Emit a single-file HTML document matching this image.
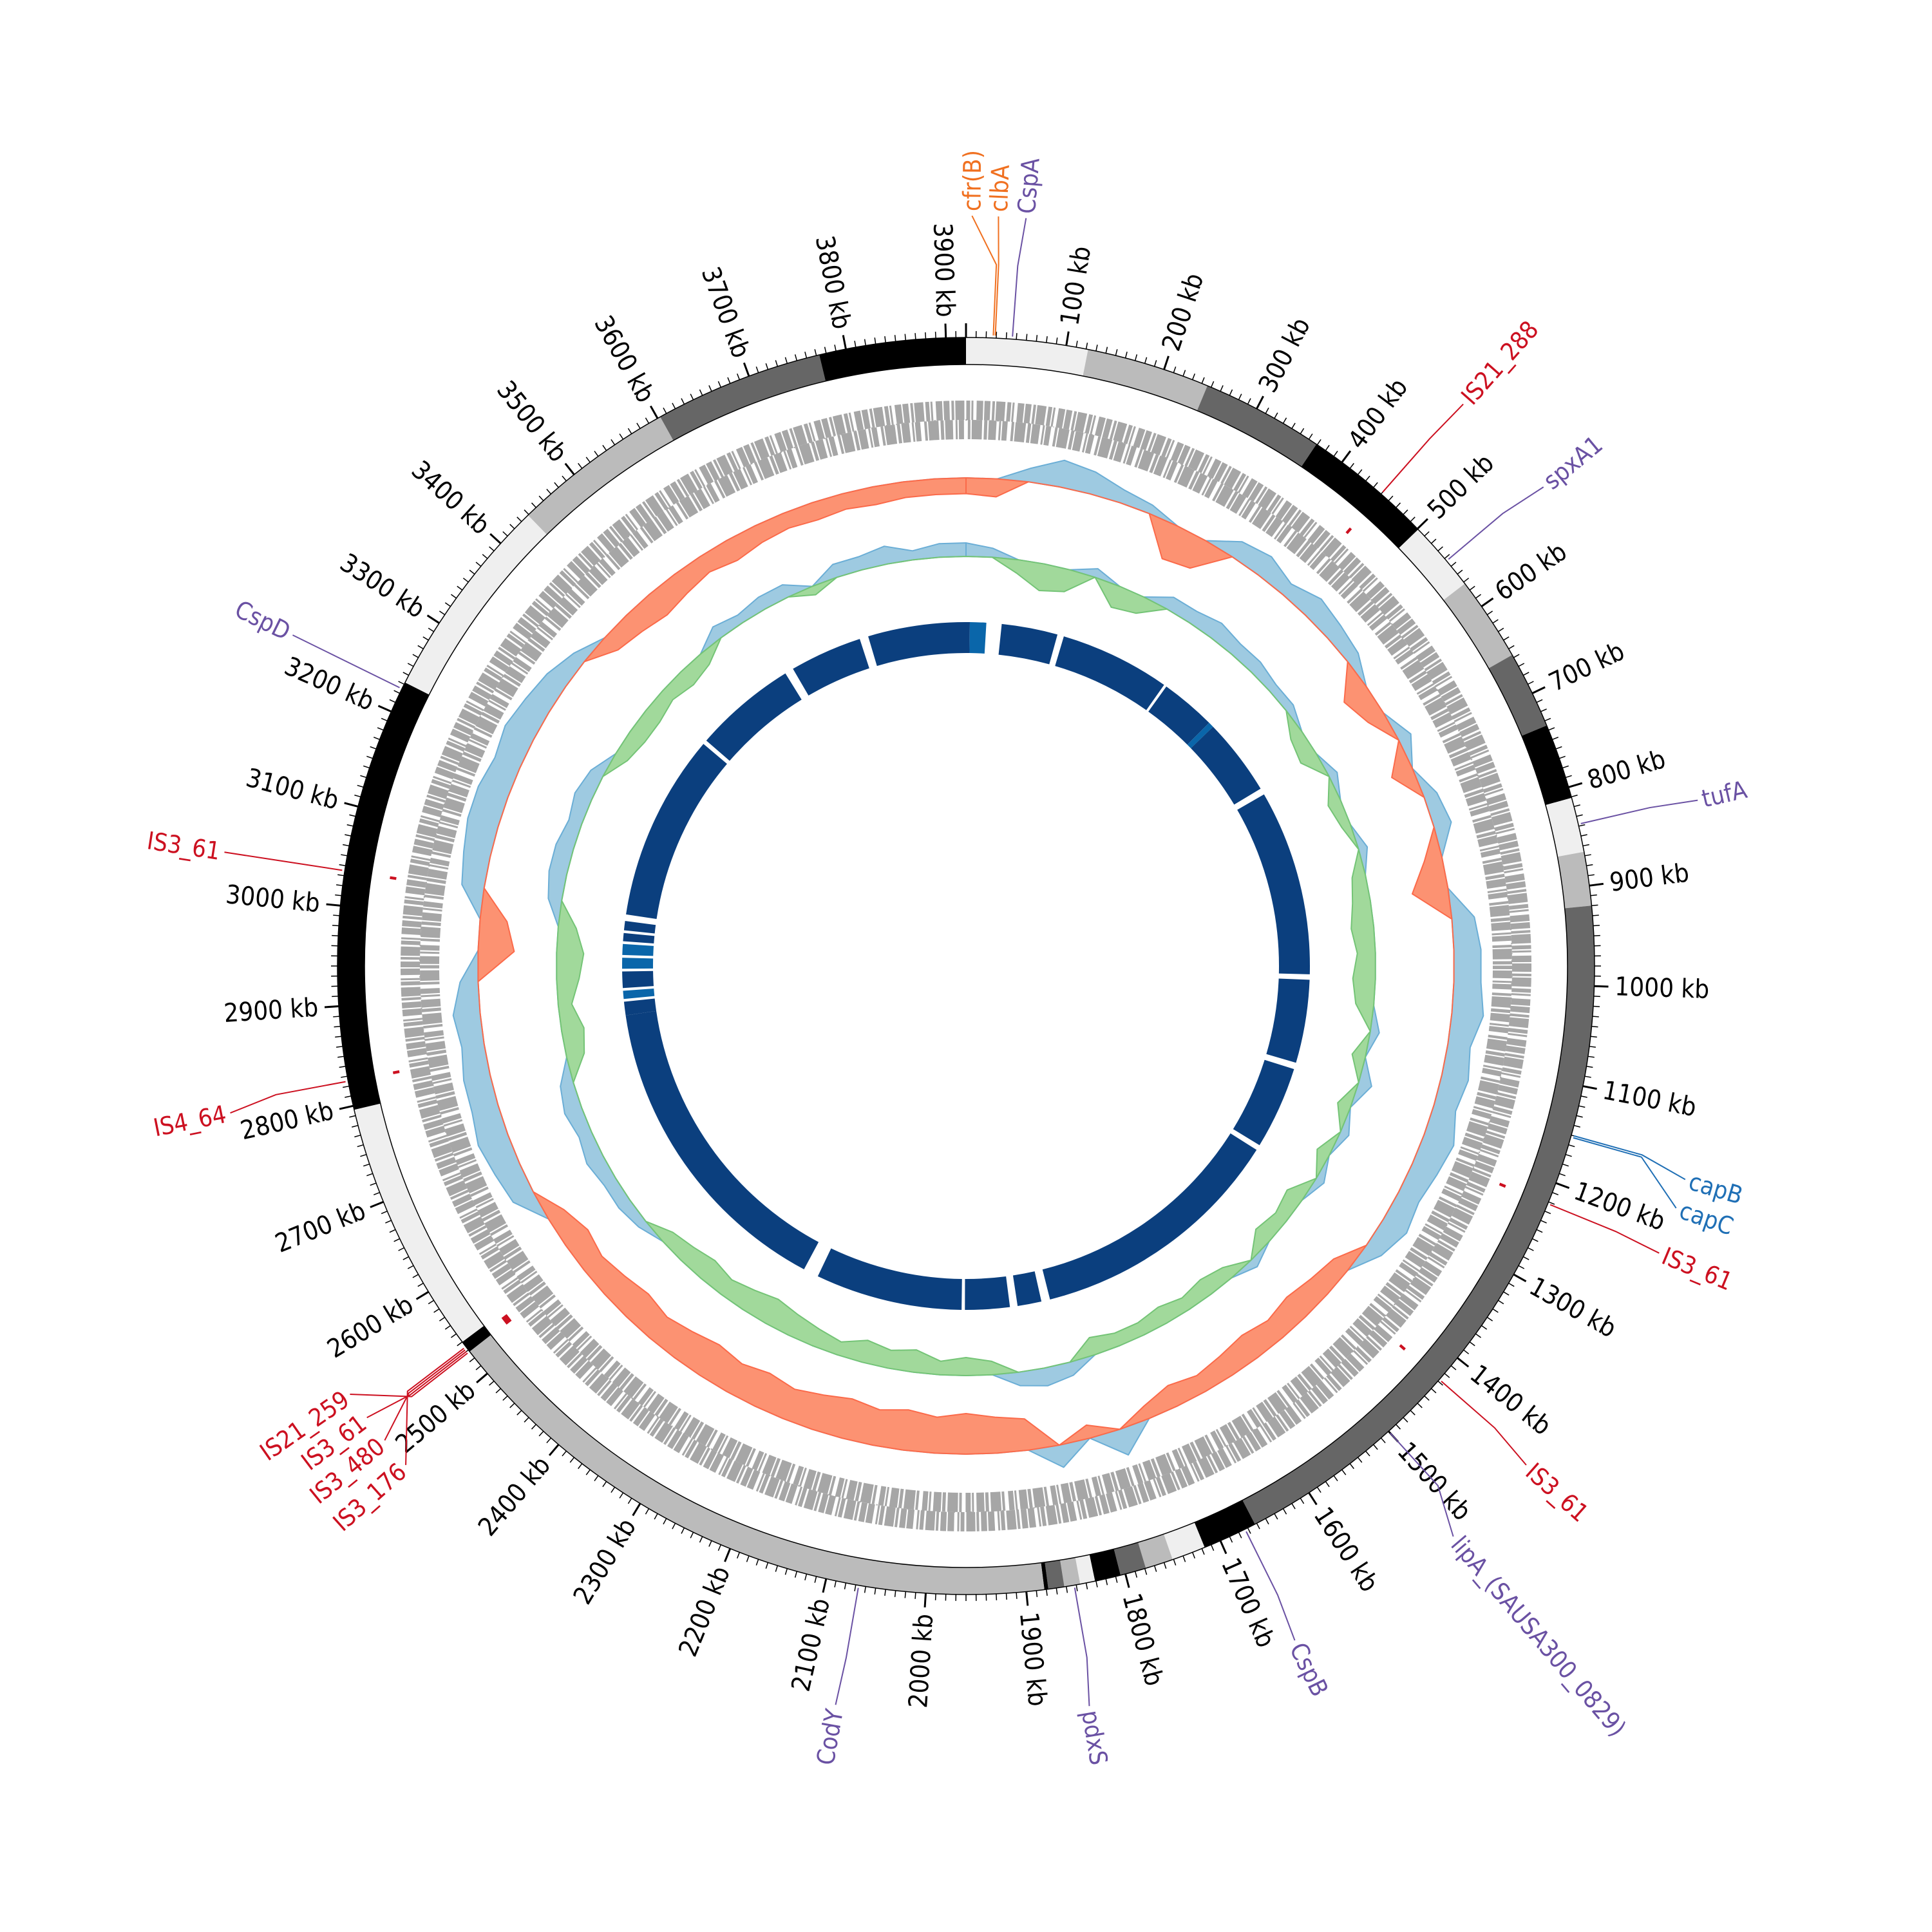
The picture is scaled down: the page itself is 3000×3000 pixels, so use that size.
<!DOCTYPE html>
<html><head><meta charset="utf-8"><style>
html,body{margin:0;padding:0;background:#fff;}
svg{display:block;}
text{font-family:"DejaVu Sans Condensed","Liberation Sans Narrow","Liberation Sans",sans-serif;}
</style></head><body>
<svg id="chart" xmlns="http://www.w3.org/2000/svg" width="3000" height="3000" viewBox="0 0 3000 3000">
<rect width="3000" height="3000" fill="#fff"/>
<g id="g-genes"></g>
<g id="g-skew"></g>
<g id="g-gc"></g>
<g id="g-blast"></g>
<g id="g-ideo"></g>
<g id="g-ticks"></g>
<g id="g-ann"></g>
</svg>
<script>
const genomeLength = 3920;
const bandStarts = [0,122,246,369,501,572,657,735,811,866,920,1662,1717,1751,1779,1805,1831,1846,1862,1878,1882,2528,2540,2796,3232,3439,3603,3773];
const bandEnds   = [122,246,369,501,572,657,735,811,866,920,1662,1717,1751,1779,1805,1831,1846,1862,1878,1882,2528,2540,2796,3232,3439,3603,3773,3920];
const bandShades = ['l','m','d','k','l','m','d','k','l','m','d','k','l','m','d','k','l','m','d','k','m','k','l','k','l','m','d','k'];
const skewValues = [-0.35,-0.4,0.3,0.6,0.5,0.3,0.2,-0.8,-0.7,0.4, 0.5,0.3,0.5,0.4,0.3,-0.6,-0.4,0.3,-0.5,0.3, 0.4,-0.4,-0.8,0.5,0.6,
 0.6,0.7,0.5,0.6,0.5,0.7,0.6,0.5,0.6,0.4,
 -0.4,-0.5,-0.6,-0.5,-0.6,-0.5,-0.4,-0.5,
 -0.3,0.6,-0.3,0.5,
 -0.7,-0.8,-0.9,-0.8,-0.9,-0.8,-0.9,-0.8,-0.7,-0.8,-0.7,-0.8,-0.7,-0.6,-0.7,-0.6,-0.5,-0.6,-0.4,
 0.5,0.6,0.7,0.6,0.6,0.5,0.6,0.4,
 -0.8,-0.6,
 0.5,0.6,0.7,0.7,0.6,0.7,0.6,0.5,0.3,
 -0.4,-0.5,-0.6,-0.5,-0.4,-0.5,-0.4,-0.35,-0.4,-0.35,-0.4,-0.35,-0.35];
const gcValues = [0.3,0.2,-0.3,-0.6,-0.5,0.2,-0.5,-0.4,0.3,0.3, 0.4,0.3,0.3,0.2,0.2,-0.3,-0.4,0.2,-0.3,-0.2, 0.2,-0.3,-0.4,-0.5,-0.4,
 -0.5,-0.4,0.2,-0.3,0.3,-0.3,0.2,-0.3,0.2,-0.4,
 -0.3,-0.4,0.2,-0.3,-0.4,-0.3,-0.4,-0.3,
 -0.3,-0.4,0.3,0.4,
 0.3,-0.3,-0.4,-0.3,-0.5,-0.4,-0.5,-0.3,-0.4,-0.5,-0.6,-0.5,-0.4,-0.5,-0.4,-0.3,0.2,0.3,0.3,
 0.4,0.3,0.4,0.3,-0.4,-0.5,-0.3,-0.5,
 -0.6,-0.4,
 0.3,0.4,0.4,0.3,0.4,0.3,-0.3,-0.4,-0.4,
 -0.3,-0.4,-0.3,0.3,0.2,0.3,0.3,-0.2,0.3,0.3,0.4,0.2,0.3];
const blastStarts = [0,7,65,180,388,490,500,654,1005,1170,1332,1822,1880,1968,2266,2850,2880,2900,2935,2960,2985,3005,3034,3386,3591,3740];
const blastEnds   = [7,37,168,383,490,500,642,995,1158,1322,1806,1866,1962,2238,2850,2875,2895,2930,2955,2980,3000,3022,3378,3575,3724,3920];
const blastShades = ['n','b','n','n','n','b','n','n','n','n','n','n','n','n','n','n','b','n','b','b','n','n','n','n','n','n'];
const annNames  = ['cfr(B)','clbA','CspA','IS21_288','spxA1','tufA','capB','capC','IS3_61','IS3_61','lipA_(SAUSA300_0829)','CspB','pdxS','CodY','IS21_259','IS3_61','IS3_480','IS3_176','IS4_64','IS3_61','CspD'];
const annPos    = [27,29,46,450,543,838,1150,1152,1222,1428,1500,1673,1852,2067,2528,2530,2532,2534,2825,3035,3225];
const annLabelKb= [5,27,50,452,548,841,1160,1185,1225,1434,1519,1677,1857,2069,2561,2537,2513,2486,2817,3035,3225];
const annKind   = ['o','o','p','r','p','p','b','b','r','r','p','p','p','p','r','r','r','r','r','r','p'];

const NS='http://www.w3.org/2000/svg', CX=1500, CY=1500;
const ang = kb => kb/genomeLength*2*Math.PI;
const pt = (kb,r) => [CX + r*Math.sin(ang(kb)), CY - r*Math.cos(ang(kb))];
function mk(tag, attrs, parent){const e=document.createElementNS(NS,tag);for(const k in attrs)e.setAttribute(k,attrs[k]);parent.appendChild(e);return e;}
function annulus(a,b,r1,r2){
  const p1=pt(a,r2),p2=pt(b,r2),p3=pt(b,r1),p4=pt(a,r1);const lg=(b-a)/genomeLength>0.5?1:0;
  return `M${p1[0]},${p1[1]}A${r2},${r2} 0 ${lg} 1 ${p2[0]},${p2[1]}L${p3[0]},${p3[1]}A${r1},${r1} 0 ${lg} 0 ${p4[0]},${p4[1]}Z`;
}
const bandColor={l:'#efefef',m:'#bbbbbb',d:'#666666',k:'#000000'};
const gI=document.getElementById('g-ideo');
bandStarts.forEach((s,i)=>{
  const e=mk('path',{d:annulus(s,bandEnds[i],934,976),fill:bandColor[bandShades[i]],stroke:'none'},gI);
  
  
});
const c1=mk('circle',{cx:CX,cy:CY,r:934,fill:'none',stroke:'#000','stroke-width':1.5},gI);


const c2=mk('circle',{cx:CX,cy:CY,r:976,fill:'none',stroke:'#000','stroke-width':1.5},gI);



const gT=document.getElementById('g-ticks');
for(let kb=0;kb<genomeLength;kb+=10){
  const major=kb%100===0;const a=pt(kb,976),b=pt(kb,major?998:986);
  const t=mk('line',{x1:a[0],y1:a[1],x2:b[0],y2:b[1],stroke:'#000','stroke-width':major?3:1.5},gT);
  
  
  if(major && kb>0){
    const deg=kb/genomeLength*360;const right=deg<180;const p=pt(kb,1008);
    const rot=right?deg-90:deg+90;
    const tx=mk('text',{x:p[0],y:p[1],'font-size':40,fill:'#000','text-anchor':right?'start':'end','dominant-baseline':'central',transform:`rotate(${rot} ${p[0]} ${p[1]})`},gT);
    tx.textContent=kb+' kb';
    
    
  }
}

const gG=document.getElementById('g-genes');
const lanes=[[863,30,'9 3 4 2 14 3 6 2 3 5 10 2'],[833,30,'5 2 12 4 3 2 8 6 4 2 16 3'],[848,2,'2 14 1 9 3 20']];
lanes.forEach(l=>{
  const c=mk('circle',{cx:CX,cy:CY,r:l[0],fill:'none',stroke:'#a6a6a6','stroke-width':l[1],'stroke-dasharray':l[2]},gG);
  
  
});

function track(g, vals, base, amp, posFill, posStroke, negFill, negStroke, name){
  const n=vals.length, step=genomeLength/n;
  ['pos','neg'].forEach(sg=>{
    let d='';
    for(let i=0;i<=n;i++){
      const v=vals[i%n];const vv=sg==='pos'?Math.max(v,0):Math.min(v,0);
      const p=pt(i*step,base+vv*amp);d+=(i?'L':'M')+p[0].toFixed(1)+','+p[1].toFixed(1);
    }
    for(let i=n;i>=0;i--){const p=pt(i*step,base);d+='L'+p[0].toFixed(1)+','+p[1].toFixed(1);}
    d+='Z';
    const e=mk('path',{d:d,fill:sg==='pos'?posFill:negFill,stroke:sg==='pos'?posStroke:negStroke,'stroke-width':2,'stroke-linejoin':'round'},g);
    
    
  });
}
track(document.getElementById('g-skew'),skewValues,758,70,'#9ecae1','#6baed6','#fc9272','#fb6a4a','gc-skew');
track(document.getElementById('g-gc'),gcValues,636,70,'#9ecae1','#6baed6','#a1d99b','#74c476','gc-content');

const gB=document.getElementById('g-blast');
blastStarts.forEach((s,i)=>{
  const e=mk('path',{d:annulus(s,blastEnds[i],486,534),fill:blastShades[i]==='n'?'#0b3f7e':'#0a66aa'},gB);
  
  
});

const gA=document.getElementById('g-ann');
const annColor={o:'#f07020',p:'#6a51a3',r:'#cc1020',b:'#1f6fb5'};
annNames.forEach((nm,i)=>{
  const col=annColor[annKind[i]];
  const a=pt(annPos[i],980),b=pt(annPos[i],1090),c=pt(annLabelKb[i],1165);
  const ln=mk('polyline',{points:`${a[0]},${a[1]} ${b[0]},${b[1]} ${c[0]},${c[1]}`,fill:'none',stroke:col,'stroke-width':2},gA);
  
  
  if(annKind[i]==='r'){
    const mkr=mk('path',{d:annulus(annPos[i]-1.5,annPos[i]+1.5,895,905),fill:col},gA);
    
    
  }
  const deg=annLabelKb[i]/genomeLength*360;const right=deg<180;const p=pt(annLabelKb[i],1172);
  const rot=right?deg-90:deg+90;
  const tx=mk('text',{x:p[0],y:p[1],'font-size':38,fill:col,'text-anchor':right?'start':'end','dominant-baseline':'central',transform:`rotate(${rot} ${p[0]} ${p[1]})`},gA);
  tx.textContent=nm;
  
  
});
</script>
</body></html>
